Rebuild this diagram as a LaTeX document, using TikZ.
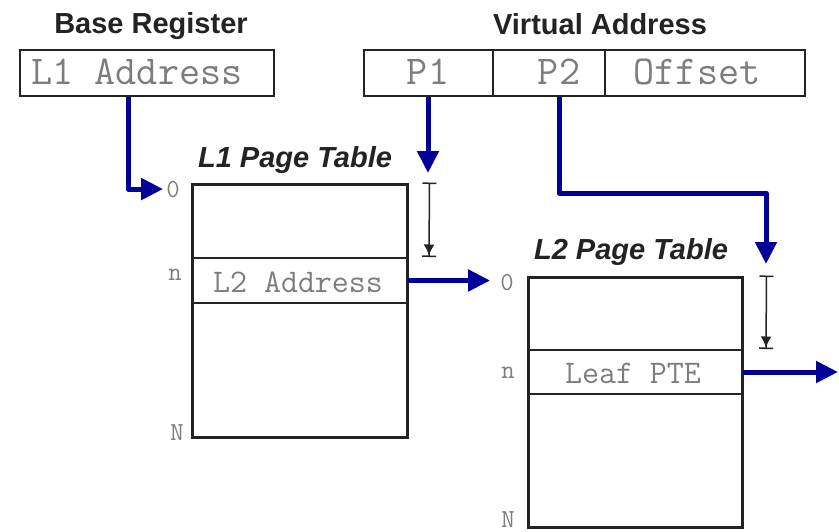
\documentclass[tikz,border=0pt]{standalone}
\usepackage{fontspec}
\setmainfont{Liberation Sans}
\usetikzlibrary{arrows.meta}
\definecolor{navy}{RGB}{0,0,150}
\definecolor{txtgray}{RGB}{125,125,125}
\definecolor{boxline}{RGB}{35,35,35}
\begin{document}
\begin{tikzpicture}[x=1pt,y=-1pt,
  title/.style={font=\fontsize{29}{30}\selectfont\bfseries, text=boxline, anchor=base, inner sep=0},
  ititle/.style={font=\fontsize{29}{30}\selectfont\bfseries\itshape, text=boxline, anchor=base, inner sep=0},
  field/.style={draw=boxline, line width=2.5pt, minimum height=46pt, inner sep=0},
  ftext/.style={font=\ttfamily\fontsize{41}{41}\selectfont, text=txtgray, anchor=base, inner sep=0},
  rtext/.style={font=\ttfamily\fontsize{33}{33}\selectfont, text=txtgray, anchor=base, inner sep=0},
  idx/.style={font=\ttfamily\fontsize{26}{26}\selectfont, text=txtgray, anchor=base, inner sep=0},
  tab/.style={draw=boxline, line width=3pt, inner sep=0},
  row/.style={draw=boxline, line width=2pt, inner sep=0},
  flow/.style={draw=navy, line width=5pt, line join=round, -{Triangle[length=22pt,width=21pt]}},
  span/.style={draw=boxline, line width=1.5pt, {Bar[width=14pt]}-{Latex[length=11pt,width=11pt] Bar[width=14pt]}}
]
\useasboundingbox (0,0) rectangle (839,531);

% base register
\node[title] (basetitle) at (151,33) {Base Register};
\node[field, minimum width=254pt] (l1addr) at (147,73) {};
\node[ftext] (l1addrt) at (137,84) {L1 Address};

% virtual address
\node[title] (vatitle) at (600,34) {Virtual Address};
\node[field, minimum width=129pt] (p1) at (428.5,73) {};
\node[field, minimum width=112pt] (p2) at (549,73) {};
\node[field, minimum width=200pt] (off) at (705,73) {};
\node[ftext] (p1t) at (428,84) {P1};
\node[ftext] (p2t) at (559,84) {P2};
\node[ftext] (offt) at (697,84) {Offset};

% L1 page table
\node[ititle] (l1title) at (295,167) {L1 Page Table};
\node[tab, minimum width=215pt, minimum height=253pt] (l1tab) at (299.5,310.5) {};
\node[row, minimum width=215pt, minimum height=45pt] (l2row) at (299.5,280.5) {};
\node[rtext] (l2rowt) at (298,292) {L2 Address};
\node[idx] (l1zero) at (173,197) {0};
\node[idx] (l1n) at (175,280) {n};
\node[idx] (l1N) at (177,440) {N};

% L2 page table
\node[ititle] (l2title) at (631,259) {L2 Page Table};
\node[tab, minimum width=214pt, minimum height=250pt] (l2tab) at (635,402) {};
\node[row, minimum width=214pt, minimum height=44pt] (leafrow) at (635,372) {};
\node[rtext] (leaft) at (633,383) {Leaf PTE};
\node[idx] (l2zero) at (507,290) {0};
\node[idx] (l2n) at (508,378) {n};
\node[idx] (l2N) at (508,527) {N};

% coordinates
\coordinate (p1end) at (428,173);
\coordinate (p2turn) at (766,193);
\coordinate (p2end) at (766,264);
\coordinate (out) at (838,372);

% connectors
\draw[flow, shorten >=3pt] ([xshift=-19pt]l1addr.south) |- (l1zero.west);
\draw[flow] (p1.south -| p1t) -- (p1end);
\draw[span] ([xshift=21pt]l1tab.north east) -- ([xshift=21pt]l2row.north east);
\draw[flow, shorten >=10pt] (l2row.east) -- (l2row.east -| l2zero.west);
\draw[flow] (p2.south -| p2t) |- (p2turn) -- (p2end);
\draw[span] ([xshift=23pt]l2tab.north east) -- ([xshift=23pt]leafrow.north east);
\draw[flow] (leafrow.east) -- (leafrow.east -| out);
\end{tikzpicture}
\end{document}
